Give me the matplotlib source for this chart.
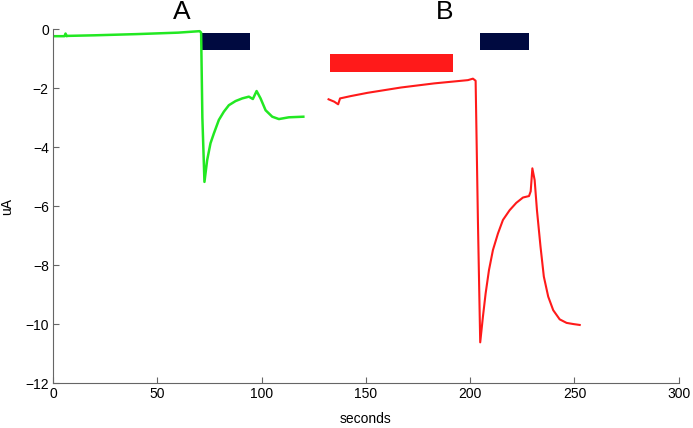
import matplotlib
matplotlib.use("Agg")
import matplotlib.pyplot as plt

# Trace A (green)
t_a = [0.2, 5.5, 6.0, 6.5, 7.0, 20, 40, 60, 70.3, 71.0, 71.6, 72.6, 73.9, 75.5, 77.1, 79.5, 81.9,
       84.3, 87.5, 90.7, 93.9, 95.8, 97.6, 99.5, 101.9, 105.1, 108.3, 113.1, 120.0]
v_a = [-0.24, -0.24, -0.15, -0.24, -0.23, -0.21, -0.17, -0.12, -0.07, -0.12, -3.0, -5.18, -4.44,
       -3.87, -3.54, -3.08, -2.80, -2.58, -2.44, -2.35, -2.29, -2.37, -2.10, -2.35, -2.75, -2.97,
       -3.05, -2.99, -2.97]

# Trace B (red)
t_b = [132.1, 134.8, 136.7, 137.6, 142.8, 150.8, 166.8, 182.8, 198.9, 201.3, 202.6, 203.7, 204.8,
       206.1, 207.4, 209.0, 210.9, 213.3, 215.7, 218.9, 222.1, 225.3, 228.2, 229.0, 229.8, 230.9,
       232.0, 233.7, 235.3, 237.4, 239.8, 242.9, 246.2, 249.5, 252.5]
v_b = [-2.38, -2.46, -2.55, -2.35, -2.27, -2.16, -1.98, -1.84, -1.73, -1.68, -1.75, -6.5, -10.62,
       -9.75, -8.96, -8.17, -7.49, -6.93, -6.47, -6.14, -5.89, -5.71, -5.66, -5.5, -4.72, -5.12,
       -6.14, -7.37, -8.39, -9.07, -9.53, -9.84, -9.96, -10.0, -10.03]

# Application bars: (start, end, y_top, y_bottom)
navy_bars = [(71.6, 94.2, -0.14, -0.72), (204.8, 228.4, -0.14, -0.72)]
red_bars = [(132.7, 191.8, -0.85, -1.46)]

panel_labels = ["A", "B"]
panel_label_x = [61.5, 187.5]

x_ticks = [0, 50, 100, 150, 200, 250, 300]
y_ticks = [0, -2, -4, -6, -8, -10, -12]

plt.rcParams['font.family'] = ['Liberation Sans', 'DejaVu Sans']
fig = plt.figure(figsize=(6.93, 4.28), dpi=100)
ax = fig.add_axes([0.0765, 0.105, 0.903, 0.827])

ax.plot(t_a, v_a, color='#22e822', lw=1.8, solid_joinstyle='round')
ax.plot(t_b, v_b, color='#ff1a1a', lw=1.5, solid_joinstyle='round')

for s, e, top, bot in navy_bars:
    ax.barh((top + bot) / 2, e - s, left=s, height=top - bot, color='#000a40')
for s, e, top, bot in red_bars:
    ax.barh((top + bot) / 2, e - s, left=s, height=top - bot, color='#ff1a1a')

for lab, x in zip(panel_labels, panel_label_x):
    ax.text(x, 0.58, lab, fontsize=19, ha='center', va='center', clip_on=False)

ax.set_xlim(0, 300)
ax.set_ylim(-12, 0)
ax.set_xticks(x_ticks)
ax.set_yticks(y_ticks)
ax.tick_params(direction='in', length=4, color='#666666', labelsize=10, pad=3)
for side in ['top', 'right']:
    ax.spines[side].set_visible(False)
for side in ['left', 'bottom']:
    ax.spines[side].set_color('#666666')
ax.set_xlabel('seconds', fontsize=10, labelpad=8)
ax.set_ylabel('uA', fontsize=10)
ax.yaxis.set_label_coords(-0.062, 0.5)

fig.savefig('out.png', dpi=100)
